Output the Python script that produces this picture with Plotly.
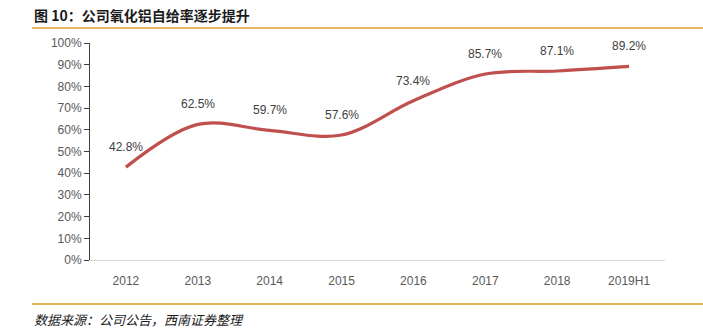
import plotly.graph_objects as go

categories = ["2012", "2013", "2014", "2015", "2016", "2017", "2018", "2019H1"]
values = [42.8, 62.5, 59.7, 57.6, 73.4, 85.7, 87.1, 89.2]
labels = [f"{v:.1f}%" for v in values]
ytick_vals = list(range(0, 101, 10))
ytick_text = [f"{v}%" for v in ytick_vals]

W, H = 703, 332
L, R, T, B = 90, 665, 43, 260

def px_x(px):
    return (px - L) / (R - L)

def px_y(py):
    return (B - py) / (B - T)

fig = go.Figure()
fig.add_trace(go.Scatter(
    x=categories, y=values, mode="lines",
    line=dict(color="#C0504D", width=3.2, shape="spline", smoothing=1.0),
    cliponaxis=False, hoverinfo="skip",
))

annotations = [
    dict(x=i, y=v, text=t, xref="x", yref="y", showarrow=False,
         xanchor="center", yanchor="middle", yshift=20,
         font=dict(family="Liberation Sans, Arial", size=12, color="#404040"))
    for i, (v, t) in enumerate(zip(values, labels))
]
annotations += [
    dict(text="<b>图 10：公司氧化铝自给率逐步提升</b>", xref="paper", yref="paper",
         x=px_x(32), y=px_y(15), xanchor="left", yanchor="middle", showarrow=False,
         font=dict(family="Noto Sans CJK SC", size=14, color="#1a1a1a")),
    dict(text="<i>数据来源：公司公告，西南证券整理</i>", xref="paper", yref="paper",
         x=px_x(32), y=px_y(319), xanchor="left", yanchor="middle", showarrow=False,
         font=dict(family="Noto Sans CJK SC", size=13, color="#1a1a1a")),
]

fig.update_layout(
    width=W, height=H,
    margin=dict(l=L, r=W - R, t=T, b=H - B),
    paper_bgcolor="white", plot_bgcolor="white",
    showlegend=False,
    xaxis=dict(
        type="category", showgrid=False, showline=True, linecolor="#D9D9D9",
        linewidth=1, ticks="", range=[-0.5, 7.5],
        tickfont=dict(family="Liberation Sans, Arial", size=12, color="#595959"),
        ticklabelstandoff=10,
    ),
    yaxis=dict(
        range=[0, 100], tickvals=ytick_vals, ticktext=ytick_text,
        showgrid=False, showline=True, linecolor="#404040", linewidth=1,
        ticks="outside", ticklen=5, tickcolor="#404040", zeroline=False,
        tickfont=dict(family="Liberation Sans, Arial", size=12, color="#595959"),
    ),
    shapes=[
        dict(type="line", xref="paper", yref="paper",
             x0=px_x(32), x1=px_x(703), y0=px_y(28), y1=px_y(28),
             line=dict(color="#E39A2E", width=1.5)),
        dict(type="line", xref="paper", yref="paper",
             x0=px_x(32), x1=px_x(703), y0=px_y(304), y1=px_y(304),
             line=dict(color="#E39A2E", width=1.5)),
    ],
    annotations=annotations,
)

fig.write_html("out.html")
